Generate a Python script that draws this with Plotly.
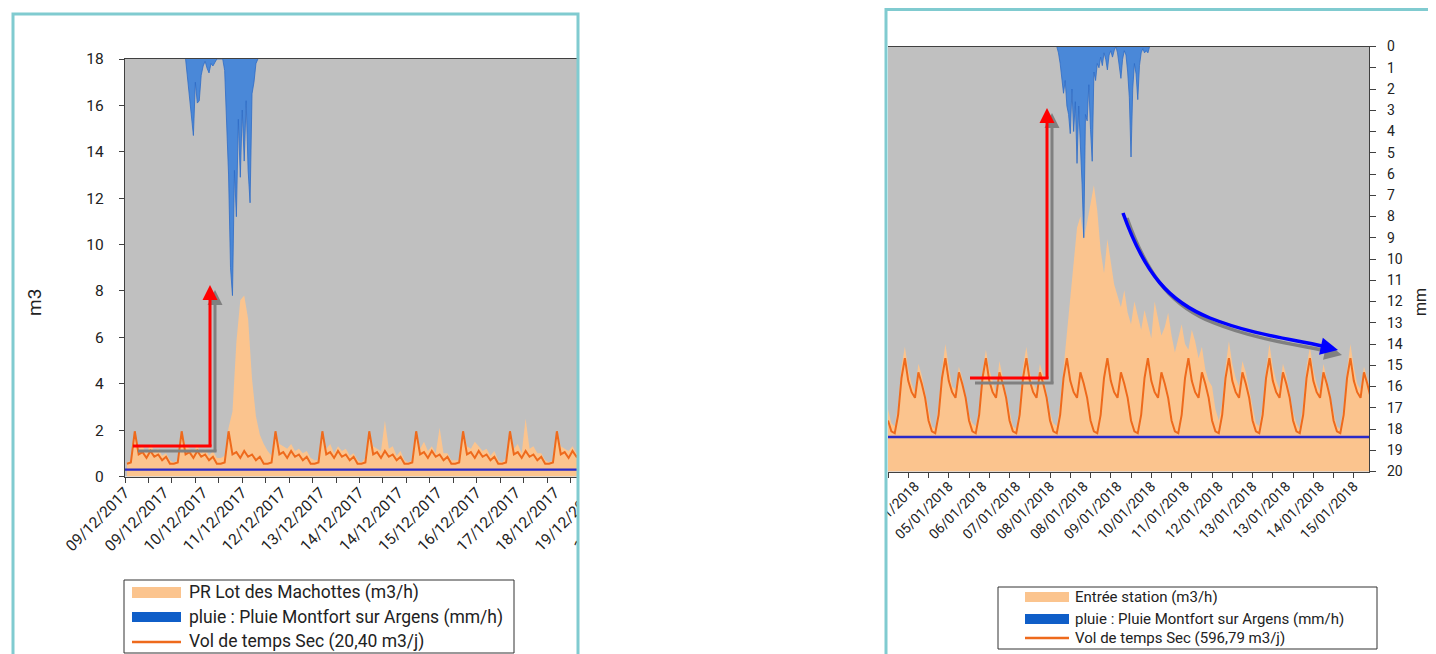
import pandas as pd
import plotly.graph_objects as go

# the page body has an 8 px margin, so the figure is drawn 8 px in and 8 px smaller
OFF = 8
W, H = 1436 - OFF, 654 - OFF
FONT = "Roboto, Arial, sans-serif"


def px(x):
    return (x - OFF) / W


def py(y):
    return 1 - (y - OFF) / H


# ---------- left chart : PR Lot des Machottes, 2 h steps from 09/12/2017 01:00
machottes_m3h = [
    0.6, 0.7, 1.9, 1.2, 1.3, 1.0, 1.4, 1.1, 1.2, 0.9, 1.0, 0.7,
    0.6, 0.7, 1.9, 1.3, 1.2, 1.1, 1.3, 1.0, 1.2, 0.9, 1.1, 0.8,
    0.8, 0.9, 2.1, 2.8, 5.8, 7.6, 7.8, 6.8, 4.2, 2.6, 1.8, 1.4,
    1.1, 0.9, 2.0, 1.4, 1.3, 1.2, 1.4, 1.1, 1.2, 1.0, 1.1, 0.8,
    0.7, 0.7, 1.9, 1.2, 1.4, 1.0, 1.3, 1.1, 1.2, 0.9, 1.0, 0.7,
    0.6, 0.8, 2.0, 1.3, 1.2, 1.1, 2.4, 1.2, 1.3, 0.9, 1.1, 0.7,
    0.6, 0.7, 1.9, 1.2, 1.5, 1.1, 1.3, 1.0, 2.1, 1.0, 1.0, 0.7,
    0.7, 0.7, 2.0, 1.3, 1.2, 1.5, 1.3, 1.1, 1.2, 0.9, 1.1, 0.7,
    0.6, 0.8, 1.9, 1.2, 1.4, 1.0, 2.5, 1.2, 1.3, 1.0, 1.0, 0.7,
    0.6, 0.7, 2.0, 1.3, 1.2, 1.1, 1.3, 1.0, 1.2, 0.9, 1.1, 0.7,
    0.6, 0.7, 1.9, 1.2, 1.3, 1.0, 1.4, 1.1, 1.2, 0.9, 1.0, 0.7,
]
dry_left_m3h = [
    0.55, 0.6, 1.95, 0.95, 1.05, 0.8, 1.1, 0.85, 0.95, 0.7, 0.85, 0.55,
    0.55, 0.6, 1.95, 0.95, 1.05, 0.8, 1.1, 0.85, 0.95, 0.7, 0.85, 0.55,
    0.55, 0.6, 1.95, 0.95, 1.05, 0.8, 1.1, 0.85, 0.95, 0.7, 0.85, 0.55,
    0.55, 0.6, 1.95, 0.95, 1.05, 0.8, 1.1, 0.85, 0.95, 0.7, 0.85, 0.55,
    0.55, 0.6, 1.95, 0.95, 1.05, 0.8, 1.1, 0.85, 0.95, 0.7, 0.85, 0.55,
    0.55, 0.6, 1.95, 0.95, 1.05, 0.8, 1.1, 0.85, 0.95, 0.7, 0.85, 0.55,
    0.55, 0.6, 1.95, 0.95, 1.05, 0.8, 1.1, 0.85, 0.95, 0.7, 0.85, 0.55,
    0.55, 0.6, 1.95, 0.95, 1.05, 0.8, 1.1, 0.85, 0.95, 0.7, 0.85, 0.55,
    0.55, 0.6, 1.95, 0.95, 1.05, 0.8, 1.1, 0.85, 0.95, 0.7, 0.85, 0.55,
    0.55, 0.6, 1.95, 0.95, 1.05, 0.8, 1.1, 0.85, 0.95, 0.7, 0.85, 0.55,
    0.55, 0.6, 1.95, 0.95, 1.05, 0.8, 1.1, 0.85, 0.95, 0.7, 0.85, 0.55,
]
base_left = 0.3
# hourly rain from 10/12/2017 07:00
rain_left_mm = [
    0, 0.8, 1.6, 2.6, 3.3, 1.0, 1.9, 1.8, 0.7, 0.3, 0.1, 0.4, 0.6, 0.2, 0.3, 0.15,
    0, 0, 0, 0, 0.5, 2.5, 5.0, 9.0, 10.2, 4.8, 6.8, 2.6, 5.1, 2.2, 4.4, 1.8, 4.8,
    6.2, 1.5, 1.0, 0.2, 0,
]
left_ticks = ["09/12/2017", "09/12/2017", "10/12/2017", "11/12/2017", "12/12/2017",
              "13/12/2017", "14/12/2017", "14/12/2017", "15/12/2017", "16/12/2017",
              "17/12/2017", "18/12/2017", "19/12/2017", "19/12/2017"]

# ---------- right chart : Entrée station, 2 h steps from 04/01/2018 00:00
station_m3h = [
    22, 17, 16, 23, 37, 44, 36, 31, 28, 38, 34, 28,
    21, 16, 15, 24, 36, 45, 37, 30, 29, 37, 33, 27,
    20, 17, 16, 22, 35, 43, 36, 32, 28, 39, 33, 28,
    21, 16, 15, 23, 37, 44, 35, 31, 29, 38, 34, 27,
    21, 17, 16, 24, 36, 48, 62, 74, 86, 90, 82, 88,
    95, 101, 92, 78, 70, 82, 74, 66, 62, 58, 64, 56,
    52, 60, 55, 50, 57, 52, 47, 60, 54, 48, 51, 56,
    48, 42, 47, 52, 45, 43, 50, 46, 40, 44, 36, 32,
    30, 22, 18, 24, 37, 46, 38, 33, 30, 39, 35, 29,
    22, 17, 16, 23, 36, 45, 37, 32, 29, 38, 34, 28,
    21, 17, 15, 24, 37, 44, 36, 31, 28, 38, 33, 27,
    21, 16, 15, 23, 36, 45, 37, 31, 29, 37, 33, 27,
]
dry_right_m3h = [
    18, 14.2, 13.5, 20, 33, 40, 32, 28, 26, 35, 31, 26,
    18, 14.2, 13.5, 20, 33, 40, 32, 28, 26, 35, 31, 26,
    18, 14.2, 13.5, 20, 33, 40, 32, 28, 26, 35, 31, 26,
    18, 14.2, 13.5, 20, 33, 40, 32, 28, 26, 35, 31, 26,
    18, 14.2, 13.5, 20, 33, 40, 32, 28, 26, 35, 31, 26,
    18, 14.2, 13.5, 20, 33, 40, 32, 28, 26, 35, 31, 26,
    18, 14.2, 13.5, 20, 33, 40, 32, 28, 26, 35, 31, 26,
    18, 14.2, 13.5, 20, 33, 40, 32, 28, 26, 35, 31, 26,
    18, 14.2, 13.5, 20, 33, 40, 32, 28, 26, 35, 31, 26,
    18, 14.2, 13.5, 20, 33, 40, 32, 28, 26, 35, 31, 26,
    18, 14.2, 13.5, 20, 33, 40, 32, 28, 26, 35, 31, 26,
    18, 14.2, 13.5, 20, 33, 40, 32, 28, 26, 35, 31, 26,
]
base_right = 12.2
# hourly rain from 08/01/2018 04:00
rain_right_mm = [
    0, 0.3, 0.8, 1.5, 2.2, 1.6, 2.8, 3.2, 4.1, 2.0, 4.0, 2.6, 5.5, 2.8, 4.5, 6.5,
    9.0, 3.2, 3.5, 1.8, 3.9, 5.4, 1.2, 1.6, 0.8, 1.0, 0.5, 0.9, 0.3, 0.6, 1.1, 0.4,
    0.2, 0.5, 0.2, 0, 0.3, 0.8, 1.5, 0.6, 0.2, 0.4, 1.2, 2.4, 5.2, 2.0, 0.8, 1.3,
    2.5, 0.9, 0.3, 0.1, 0.3, 0.2, 0.3, 0, 0,
]
right_ticks = ["04/01/2018", "05/01/2018", "06/01/2018", "07/01/2018", "08/01/2018",
               "08/01/2018", "09/01/2018", "10/01/2018", "11/01/2018", "12/01/2018",
               "13/01/2018", "13/01/2018", "14/01/2018", "15/01/2018"]

# time stamps
x_left = pd.date_range("2017-12-09 01:00", periods=len(machottes_m3h), freq="2h")
x_rain_left = pd.date_range("2017-12-10 07:00", periods=len(rain_left_mm), freq="h")
left_range = [pd.Timestamp("2017-12-09 00:00"), pd.Timestamp("2017-12-19 22:00")]
left_tickvals = pd.date_range("2017-12-09 00:00", periods=len(left_ticks), freq="20h")

x_right = pd.date_range("2018-01-04 00:00", periods=len(station_m3h), freq="2h")
x_rain_right = pd.date_range("2018-01-08 04:00", periods=len(rain_right_mm), freq="h")
right_range = [pd.Timestamp("2018-01-04 00:00"), pd.Timestamp("2018-01-15 21:00")]
right_tickvals = pd.date_range("2018-01-04 16:00", periods=len(right_ticks), freq="20h")

ORANGE_AREA = "#fbc48e"
ORANGE_LINE = "#ee6a1c"
RAIN = "#4a88d8"
RAIN_EDGE = "#2f6cc6"
BASE_BLUE = "#2a2ac8"
TEAL = "#80cbd0"
AXIS = "#404040"

fig = go.Figure()

# left
fig.add_trace(go.Scatter(x=x_left, y=machottes_m3h, mode="lines", fill="tozeroy",
                         fillcolor=ORANGE_AREA, line=dict(width=0, color=ORANGE_AREA),
                         xaxis="x", yaxis="y", hoverinfo="skip"))
fig.add_trace(go.Scatter(x=left_range, y=[base_left, base_left], mode="lines",
                         line=dict(color=BASE_BLUE, width=2.2), xaxis="x", yaxis="y"))
fig.add_trace(go.Scatter(x=x_left, y=dry_left_m3h, mode="lines",
                         line=dict(color=ORANGE_LINE, width=2), xaxis="x", yaxis="y"))
fig.add_trace(go.Scatter(x=x_rain_left, y=rain_left_mm, mode="lines", fill="tozeroy",
                         fillcolor=RAIN, line=dict(width=0.8, color=RAIN_EDGE),
                         xaxis="x", yaxis="y2"))

# right
fig.add_trace(go.Scatter(x=x_right, y=station_m3h, mode="lines", fill="tozeroy",
                         fillcolor=ORANGE_AREA, line=dict(width=0, color=ORANGE_AREA),
                         xaxis="x2", yaxis="y3"))
fig.add_trace(go.Scatter(x=right_range, y=[base_right, base_right], mode="lines",
                         line=dict(color=BASE_BLUE, width=2.4), xaxis="x2", yaxis="y3"))
fig.add_trace(go.Scatter(x=x_right, y=dry_right_m3h, mode="lines",
                         line=dict(color=ORANGE_LINE, width=2), xaxis="x2", yaxis="y3"))
fig.add_trace(go.Scatter(x=x_rain_right, y=rain_right_mm, mode="lines", fill="tozeroy",
                         fillcolor=RAIN, line=dict(width=0.8, color=RAIN_EDGE),
                         xaxis="x2", yaxis="y4"))

tickfont_l = dict(family=FONT, size=15.5, color="#222")
tickfont_r = dict(family=FONT, size=14, color="#222")

xcommon = dict(type="date", showline=True, linecolor=AXIS, linewidth=1.2, mirror=True,
               showgrid=False, zeroline=False, ticks="", tickangle=-45, automargin=False)

fig.update_layout(
    width=W, height=H,
    margin=dict(l=0, r=0, t=0, b=0, pad=0, autoexpand=False),
    paper_bgcolor="white",
    plot_bgcolor="#c0c0c0",
    showlegend=False,
    xaxis=dict(xcommon, domain=[px(125), px(637)], anchor="y", range=left_range,
               tickmode="array", tickvals=left_tickvals, ticktext=left_ticks,
               tickfont=tickfont_l,
               minor=dict(ticks="outside", ticklen=5, tickcolor=AXIS, showgrid=False,
                          dtick=12 * 3600 * 1000, tick0="2017-12-09")),
    yaxis=dict(domain=[py(476.5), py(59)], anchor="x", range=[0, 18], dtick=2,
               showline=True, linecolor=AXIS, linewidth=1.2, ticks="outside",
               ticklen=5, tickcolor=AXIS, showgrid=False, zeroline=False,
               tickfont=tickfont_l, ticklabelstandoff=12, automargin=False),
    yaxis2=dict(overlaying="y", anchor="x", range=[18, 0], visible=False, automargin=False),
    xaxis2=dict(xcommon, domain=[px(888), px(1369)], anchor="y3", range=right_range,
                tickmode="array", tickvals=right_tickvals, ticktext=right_ticks,
                tickfont=tickfont_r,
                minor=dict(ticks="outside", ticklen=5, tickcolor=AXIS, showgrid=False,
                           dtick=12 * 3600 * 1000, tick0="2018-01-04")),
    yaxis3=dict(domain=[py(471.5), py(46.5)], anchor="x2", range=[0, 150], visible=False,
                automargin=False),
    yaxis4=dict(overlaying="y3", anchor="x2", side="right", range=[20, 0], dtick=1,
                showline=True, linecolor=AXIS, linewidth=1.2, ticks="outside",
                ticklen=6, tickcolor=AXIS, showgrid=False, zeroline=False,
                tickfont=tickfont_r, ticklabelstandoff=8, automargin=False),
)

shapes = []
# white gap between the two panels (crops the charts)
shapes.append(dict(type="rect", xref="paper", yref="paper", x0=px(579), x1=px(885),
                   y0=-0.1, y1=1.1, fillcolor="white", line=dict(width=0), layer="above"))
# panel borders
shapes.append(dict(type="rect", xref="paper", yref="paper", x0=px(13), x1=px(578),
                   y0=py(720), y1=py(14), line=dict(color=TEAL, width=3), layer="above"))
shapes.append(dict(type="rect", xref="paper", yref="paper", x0=px(886), x1=px(1520),
                   y0=py(720), y1=py(9.5), line=dict(color=TEAL, width=3), layer="above"))


def hline(x0, x1, y, color, width):
    return dict(type="line", xref="paper", yref="paper", x0=px(x0), x1=px(x1),
                y0=py(y), y1=py(y), line=dict(color=color, width=width), layer="above")


def rect(x0, x1, y0, y1, fill, line_color=None):
    return dict(type="rect", xref="paper", yref="paper", x0=px(x0), x1=px(x1),
                y0=py(y1), y1=py(y0), fillcolor=fill,
                line=dict(color=line_color or fill, width=1 if line_color else 0),
                layer="above")


# legend boxes
shapes.append(rect(124, 514, 580, 653, "white", "#333"))
shapes.append(rect(998, 1377, 587, 649, "white", "#333"))
# left legend symbols
shapes.append(rect(132, 181, 587, 598, ORANGE_AREA))
shapes.append(rect(132, 181, 612, 622, "#0f5ec8"))
shapes.append(hline(132, 181, 642, ORANGE_LINE, 2.5))
# right legend symbols
shapes.append(rect(1025, 1069, 592, 602, ORANGE_AREA))
shapes.append(rect(1025, 1069, 614, 624, "#0f5ec8"))
shapes.append(hline(1025, 1069, 638, ORANGE_LINE, 2.5))

# red arrows (shadow first)
shapes.append(hline(138, 216.5, 451, "#808080", 3))
shapes.append(hline(975, 1053.5, 383, "#808080", 3))
shapes.append(hline(133, 211.5, 446, "#ff0000", 3))
shapes.append(hline(970, 1048.5, 378, "#ff0000", 3))


def curve(pts, dx=0, dy=0):
    (x0, y0), rest = pts[0], pts[1:]
    s = f"M{px(x0 + dx)},{py(y0 + dy)}"
    for i in range(0, len(rest), 3):
        s += " C" + " ".join(f"{px(x + dx)},{py(y + dy)}" for x, y in rest[i:i + 3])
    return s


blue_curve = [(1123, 213), (1145, 275), (1170, 302), (1210, 318),
              (1250, 334), (1290, 339), (1322, 346)]
shapes.append(dict(type="path", xref="paper", yref="paper", path=curve(blue_curve, 4, 5),
                   line=dict(color="#808080", width=3.5), layer="above"))
shapes.append(dict(type="path", xref="paper", yref="paper", path=curve(blue_curve),
                   line=dict(color="#0000ff", width=3.5), layer="above"))

annotations = []


def arrow(x, y, ax, ay, color, width):
    return dict(xref="paper", yref="paper", x=px(x), y=py(y), ax=ax, ay=ay, text="",
                showarrow=True, arrowhead=2, arrowsize=1, arrowwidth=width,
                arrowcolor=color, standoff=0)


annotations.append(arrow(215, 290, 0, 163, "#808080", 3))
annotations.append(arrow(1052, 113, 0, 272, "#808080", 3))
annotations.append(arrow(1342, 355, -18, -4, "#808080", 3.5))
annotations.append(arrow(210, 285, 0, 163, "#ff0000", 3))
annotations.append(arrow(1047, 108, 0, 272, "#ff0000", 3))
annotations.append(arrow(1338, 350, -18, -4, "#0000ff", 3.5))


def label(x, y, text, size, angle=0, anchor="left"):
    return dict(xref="paper", yref="paper", x=px(x), y=py(y), text=text, showarrow=False,
                xanchor=anchor, yanchor="middle", textangle=angle,
                font=dict(family=FONT, size=size, color="#222"))


annotations.append(label(35, 302, "m3", 19, -90, "center"))
annotations.append(label(1421, 302, "mm", 16, -90, "center"))
annotations.append(label(187, 592, "PR Lot des Machottes (m3/h)", 17.5))
annotations.append(label(187, 617, "pluie : Pluie Montfort sur Argens (mm/h)", 17.5))
annotations.append(label(187, 641, "Vol de temps Sec (20,40 m3/j)", 17.5))
annotations.append(label(1073, 597, "Entrée station (m3/h)", 15))
annotations.append(label(1073, 619, "pluie : Pluie Montfort sur Argens (mm/h)", 15))
annotations.append(label(1073, 638, "Vol de temps Sec (596,79 m3/j)", 15))

fig.update_layout(shapes=shapes, annotations=annotations)

fig.write_html("out.html")
